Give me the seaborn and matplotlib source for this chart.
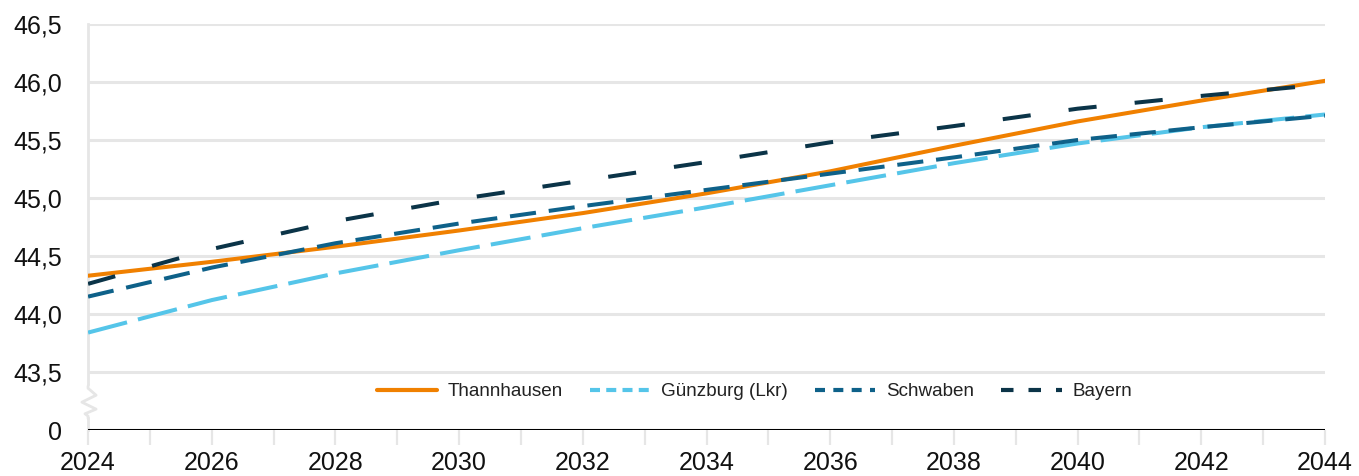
import matplotlib
matplotlib.use("Agg")
import matplotlib.pyplot as plt
import seaborn as sns
import pandas as pd
import numpy as np
from matplotlib.ticker import FixedLocator, FuncFormatter

years = [2024, 2026, 2028, 2030, 2032, 2034, 2036, 2038, 2040, 2042, 2044]
thannhausen = [44.33, 44.45, 44.58, 44.72, 44.87, 45.04, 45.23, 45.45, 45.66, 45.84, 46.01]
guenzburg = [43.84, 44.12, 44.35, 44.55, 44.74, 44.92, 45.11, 45.30, 45.47, 45.61, 45.72]
schwaben = [44.15, 44.40, 44.61, 44.78, 44.93, 45.07, 45.21, 45.35, 45.50, 45.61, 45.71]
bayern = [44.26, 44.56, 44.80, 44.99, 45.15, 45.31, 45.48, 45.62, 45.77, 45.88, 45.98]

series_names = ["Thannhausen", "Günzburg (Lkr)", "Schwaben", "Bayern"]
colors = ["#f08000", "#55c5e9", "#0e6189", "#0b3448"]
dashes = [(), (10, 2.8), (6.5, 3.2), (7, 9.5)]

ytick_vals = [43.0, 43.5, 44.0, 44.5, 45.0, 45.5, 46.0, 46.5]
ytick_labels = ["0", "43,5", "44,0", "44,5", "45,0", "45,5", "46,0", "46,5"]

df = pd.DataFrame({"Jahr": years * 4,
                   "Wert": thannhausen + guenzburg + schwaben + bayern,
                   "Region": sum([[n] * len(years) for n in series_names], [])})

sns.set_theme(style="white")
plt.rcParams["font.family"] = ["Liberation Sans", "DejaVu Sans"]

fig = plt.figure(figsize=(13.59, 4.76), dpi=100)
ax = fig.add_axes([0.0648, 0.0966, 0.975 - 0.0648, 0.9496 - 0.0966])

grid_c = "#e6e6e6"
for v in ytick_vals[1:]:
    ax.axhline(v, color=grid_c, lw=2.2, zorder=0)

sns.lineplot(data=df, x="Jahr", y="Wert", hue="Region", style="Region",
             palette=dict(zip(series_names, colors)),
             dashes=dict(zip(series_names, dashes)),
             linewidth=2.9, ax=ax, legend=True, zorder=3)

ax.axhline(43.0, color="black", lw=2.2, zorder=4)

ax.set_xlim(2024, 2044)
ax.set_ylim(43.0, 46.5)
ax.yaxis.set_major_locator(FixedLocator(ytick_vals))
ax.set_yticklabels(ytick_labels)
ax.xaxis.set_major_locator(FixedLocator(list(range(2024, 2045))))
ax.xaxis.set_major_formatter(FuncFormatter(lambda v, p: f"{int(round(v))}" if int(round(v)) % 2 == 0 else ""))
ax.tick_params(axis="y", length=11.5, width=2.2, color=grid_c, pad=7, labelsize=18, labelcolor="#111111")
ax.tick_params(axis="x", length=11, width=1.6, color=grid_c, pad=4, labelsize=18, labelcolor="#111111", bottom=True)
ax.set_xlabel("")
ax.set_ylabel("")
for s in ["top", "right", "bottom"]:
    ax.spines[s].set_visible(False)
ax.spines["left"].set_color(grid_c)
ax.spines["left"].set_linewidth(2.0)
ax.spines["left"].set_zorder(1)
ax.spines["left"].set_bounds(43.0, 46.5)

# axis break zigzag on the left spine
ax.add_patch(plt.Rectangle((2023.85, 43.12), 0.3, 0.26, color="white", zorder=2, clip_on=False))
zx = [2024, 2024, 2024.13, 2023.9, 2024.13, 2023.95, 2024, 2024]
zy = [43.38, 43.36, 43.30, 43.24, 43.18, 43.14, 43.12, 43.10]
ax.plot(zx, zy, color=grid_c, lw=2.0, zorder=2, clip_on=False)

leg = ax.legend(loc="center", bbox_to_anchor=(0.5385, 0.094), ncol=4, frameon=False,
                handlelength=3.2, columnspacing=1.45, handletextpad=0.55,
                prop={"family": ["Liberation Sans", "DejaVu Sans"], "size": 13.6})
for t in leg.get_texts():
    t.set_color("#222222")
leg_dashes = [(), (2.4, 1.5), (2.4, 2.0), (3.0, 3.6)]
for h, d in zip(leg.legend_handles, leg_dashes):
    h.set_linewidth(3.0)
    if d:
        h.set_dashes(d)

fig.savefig("out.png", dpi=100)
